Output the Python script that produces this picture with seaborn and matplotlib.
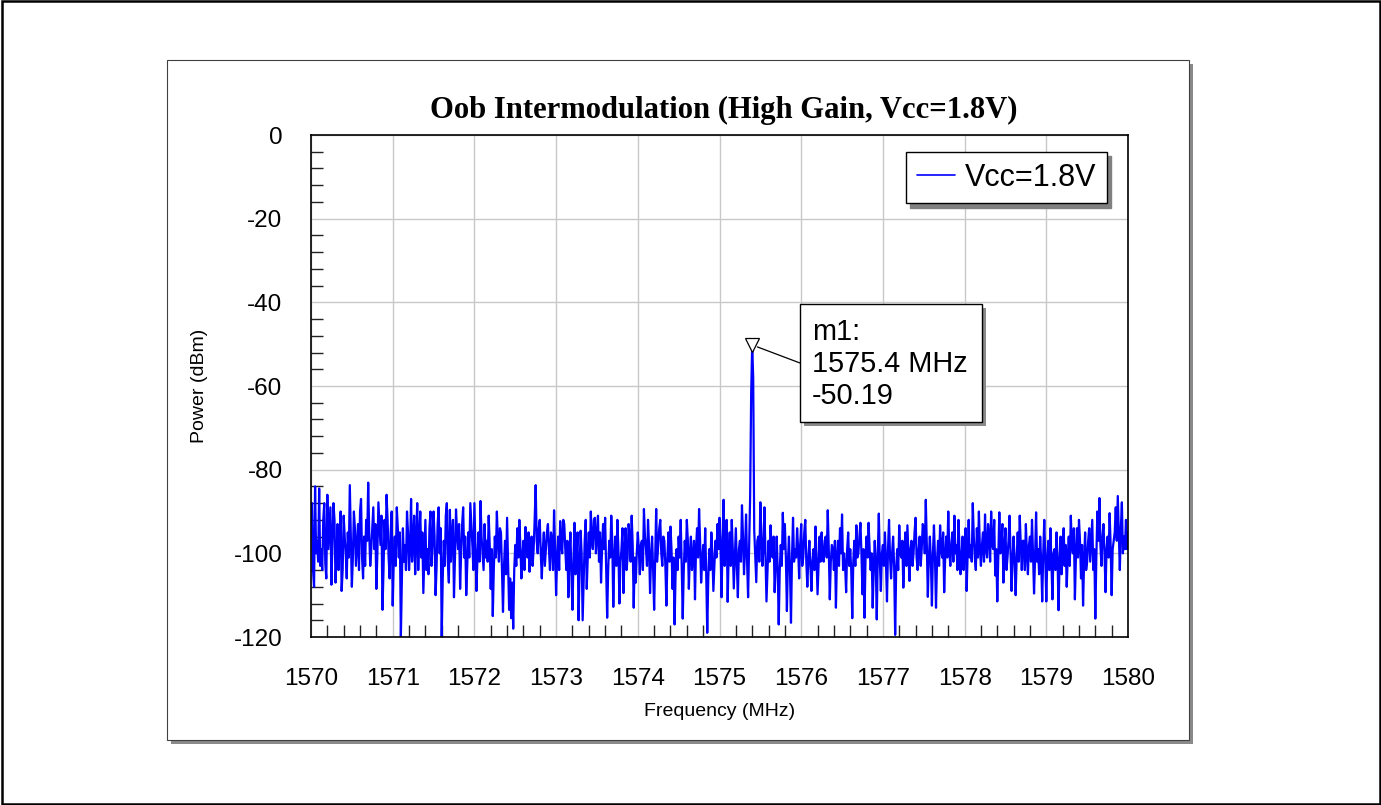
import numpy as np
import matplotlib
matplotlib.use("Agg")
import matplotlib.pyplot as plt
from matplotlib.patches import Rectangle
from matplotlib.ticker import MultipleLocator
import seaborn as sns

# ---------------- data ----------------
title = "Oob Intermodulation (High Gain, Vcc=1.8V)"
series_name = "Vcc=1.8V"
x_label = "Frequency (MHz)"
y_label = "Power (dBm)"
f_start, f_stop = 1570.0, 1580.0
x_ticks = [1570, 1571, 1572, 1573, 1574, 1575, 1576, 1577, 1578, 1579, 1580]
y_ticks = [-120, -100, -80, -60, -40, -20, 0]
marker_name = "m1"
marker_freq = 1575.4
marker_power = -50.19

# sweep samples on the 25 kHz grid
power_1570 = [-92, -104, -84, -97, -84.5, -99, -92, -102.5, -86, -94,
              -107.5, -88, -107, -93, -96, -109, -91, -100, -95, -83.7,
              -108, -90, -103, -93, -90, -101, -96, -92, -83.1, -103,
              -94, -99, -108.5, -87.8, -98, -113.5, -92, -86, -101, -95]
power_1571 = [-112.5, -96, -89, -101, -120, -94, -98, -90, -104, -87,
              -97, -105, -88, -96, -101, -109.5, -92, -99, -94, -103,
              -90, -110, -93, -100, -120, -97, -91, -102, -89.6, -96,
              -110.5, -89.5, -99, -108.5, -93, -101, -110, -95, -88, -98]
power_1572 = [-88, -109, -95, -87.5, -100, -93, -97, -91, -108.5, -115,
              -96, -90, -102, -95, -114, -97, -91.5, -113.5, -115.5, -118,
              -98, -94, -92, -106, -97, -93.7, -101, -104.4, -96, -99,
              -83.7, -100, -92, -106, -95, -99, -93, -104, -97, -89.7]
power_1573 = [-110, -96, -92.3, -100, -93, -104, -110.5, -95, -113.5, -92.7,
              -101, -116, -94.6, -116, -97, -108.5, -95, -90, -99, -91.5,
              -96, -102, -107, -93, -91.5, -115.4, -97, -91, -112.8, -96,
              -92, -112, -99, -109.5, -94, -101, -96, -91, -113, -107]
power_1574 = [-95, -105, -97, -89.4, -99, -92, -109.5, -96, -113.5, -89.4,
              -98, -92, -103, -97, -112.5, -95, -93.6, -108.5, -117, -99,
              -96, -92, -115.6, -97, -92, -108.5, -96, -101, -111, -94,
              -89.4, -107, -98, -94, -119, -99, -95, -109, -97, -93]
power_1575 = [-91.5, -110.5, -87.2, -98, -111.6, -95, -92, -108.4, -94, -110.5,
              -97, -88.5, -105, -90.7, -110.5, -86.5, -50.19, -94.5, -106.9, -96,
              -87.8, -103, -89, -111.5, -97, -93.3, -101, -109.3, -96, -117,
              -98, -90.3, -93, -113.8, -96, -116.6, -91.5, -99, -94, -106]
power_1576 = [-93, -101, -92, -108, -97, -109, -99, -93.6, -109.8, -96,
              -95, -102, -96, -89.7, -111, -98, -104, -113, -97, -94,
              -90.7, -100, -109.3, -95, -99, -115.5, -97, -93.3, -100, -92.7,
              -109.8, -115.4, -96, -92.7, -104, -113, -97, -115.8, -90.5, -109]
power_1577 = [-98, -95, -111.5, -92, -106, -96, -119.5, -99, -93.3, -101,
              -108.2, -95, -93.3, -106.6, -97, -100, -91.5, -104, -96, -99,
              -94, -87.2, -110.4, -96, -112.5, -93.3, -113, -97, -93.3, -101,
              -109.3, -96, -90, -103, -95, -91, -98, -92, -105, -96]
power_1578 = [-100, -109, -92, -98, -88, -101, -94, -90, -103, -95,
              -90.7, -101, -96, -90, -99, -105.3, -111.5, -90.2, -98, -107,
              -94, -101, -91, -109, -96, -110, -95, -91, -104, -97,
              -93, -105, -96, -92, -109.6, -90.2, -99, -96, -111.5, -92]
power_1579 = [-111.5, -97, -94, -111, -99, -95, -113.6, -96, -100, -103,
              -108, -96, -91, -100, -111, -94, -92, -106, -112.5, -95,
              -102, -94, -97, -104, -115.6, -90, -86.8, -103, -93, -109.3,
              -96, -90.4, -110, -97, -89, -86.3, -104, -87.8, -96, -92,
              -95]

# samples in between (12.5 kHz offset)
mid_1570 = [-88, -108, -100, -102, -103, -104, -88, -106, -99, -89,
            -97, -92, -101, -104, -90, -104, -96, -106, -101, -96,
            -101, -94, -98, -104, -87, -106, -103, -97, -95, -99,
            -89, -93, -100, -93, -91, -104, -99, -92, -106, -90]
mid_1571 = [-102, -103, -94, -95, -106, -102, -104, -95, -99, -102,
            -91, -97, -104, -90, -95, -101, -104, -105, -90, -98,
            -96, -103, -89, -94, -106, -103, -88, -107, -102, -92,
            -101, -95, -93, -100, -89, -96, -103, -101, -93, -104]
mid_1572 = [-99, -101, -102, -96, -104, -101, -102, -98, -99, -104,
            -101, -97, -94, -104, -103, -105, -102, -106, -107, -104,
            -103, -101, -98, -101, -104, -99, -95, -98, -103, -92,
            -97, -94, -100, -99, -103, -95, -99, -95, -104, -99]
mid_1573 = [-101, -104, -98, -92, -99, -97, -101, -105, -102, -105,
            -95, -104, -100, -106, -92, -101, -101, -97, -92, -100,
            -91, -95, -99, -99, -103, -104, -101, -97, -101, -103,
            -99, -102, -94, -100, -104, -93, -102, -98, -101, -100]
mid_1574 = [-99, -98, -104, -96, -103, -98, -101, -104, -101, -102,
            -94, -100, -96, -103, -101, -102, -99, -101, -105, -104,
            -101, -103, -104, -102, -97, -100, -104, -97, -99, -101,
            -97, -102, -104, -105, -106, -104, -100, -103, -101, -99]
mid_1575 = [-98, -97, -103, -92, -100, -103, -99, -101, -103, -99,
            -102, -96, -99, -102, -98, -62, -58, -101, -97, -102,
            -96, -99, -100, -104, -102, -99, -96, -103, -104, -104,
            -103, -99, -101, -102, -104, -101, -102, -101, -99, -98]
mid_1576 = [-103, -95, -102, -101, -103, -102, -104, -101, -103, -102,
            -101, -97, -101, -99, -102, -99, -97, -101, -103, -100,
            -104, -103, -99, -103, -104, -102, -103, -101, -96, -100,
            -99, -101, -101, -99, -100, -104, -102, -100, -102, -100]
mid_1577 = [-103, -102, -99, -101, -100, -103, -104, -104, -100, -97,
            -100, -103, -100, -99, -103, -95, -101, -99, -103, -93,
            -100, -98, -101, -102, -100, -101, -102, -103, -99, -95,
            -101, -101, -99, -98, -102, -100, -104, -99, -101, -104]
mid_1578 = [-94, -100, -101, -102, -96, -104, -101, -99, -98, -102,
            -99, -93, -102, -98, -92, -99, -101, -100, -93, -99,
            -104, -97, -100, -101, -102, -101, -102, -98, -97, -104,
            -100, -98, -102, -100, -101, -102, -105, -102, -100, -101]
mid_1579 = [-101, -104, -102, -100, -104, -101, -102, -105, -94, -98,
            -101, -103, -98, -94, -101, -101, -97, -98, -102, -104,
            -97, -102, -92, -99, -101, -97, -98, -96, -100, -99,
            -101, -98, -99, -95, -97, -95, -94, -100, -99, -99]

main = (power_1570 + power_1571 + power_1572 + power_1573 + power_1574 +
        power_1575 + power_1576 + power_1577 + power_1578 + power_1579)
mid = (mid_1570 + mid_1571 + mid_1572 + mid_1573 + mid_1574 +
       mid_1575 + mid_1576 + mid_1577 + mid_1578 + mid_1579)
power_list = []
for i, v in enumerate(main):
    power_list.append(v)
    if i < len(mid) and i < len(main) - 1:
        power_list.append(mid[i])
power = np.array(power_list, dtype=float)
freq = np.linspace(f_start, f_stop, len(power))

# ---------------- style ----------------
sns.set_style("white")
plt.rcParams["font.family"] = ["Liberation Sans", "DejaVu Sans"]
plt.rcParams.update({"text.color": "black", "axes.labelcolor": "black",
                     "xtick.color": "black", "ytick.color": "black"})

W, H = 1381, 805
fig = plt.figure(figsize=(W / 100, H / 100), dpi=100)

def fx(px):
    return px / W

def fy(py):
    return 1 - py / H

# outer border
fig.patches.append(Rectangle((fx(1.5), fy(803.5)), fx(1378), 802 / H, transform=fig.transFigure,
                             fill=False, edgecolor="black", linewidth=1.8, zorder=-5))
# panel shadow + panel
fig.patches.append(Rectangle((fx(171), fy(744)), fx(1022), 680 / H, transform=fig.transFigure,
                             facecolor="#8a8a8a", edgecolor="none", zorder=-4))
fig.patches.append(Rectangle((fx(167), fy(740)), fx(1022), 680 / H, transform=fig.transFigure,
                             facecolor="white", edgecolor="#404040", linewidth=0.8, zorder=-3))

ax = fig.add_axes([fx(311), fy(637), fx(1128) - fx(311), fy(135) - fy(637)])
ax.set_zorder(1)

sns.lineplot(x=freq, y=power, color="#0000ff", linewidth=1.6, ax=ax,
             label=series_name, estimator=None, sort=False)

ax.set_xlim(f_start, f_stop)
ax.set_ylim(-120, 0)
ax.set_xticks(x_ticks)
ax.set_yticks(y_ticks)
ax.set_xticklabels([str(t) for t in x_ticks])
ax.set_yticklabels([str(t) for t in y_ticks])
ax.xaxis.set_minor_locator(MultipleLocator(0.2))
ax.yaxis.set_minor_locator(MultipleLocator(4))
ax.grid(True, which="major", color="#c8c8c8", linewidth=1)
ax.set_axisbelow(True)
ax.tick_params(which="both", bottom=True, left=True, top=False, right=False)
ax.tick_params(which="major", length=0, labelsize=17.5, labelcolor="black")
ax.tick_params(axis="x", which="major", pad=22)
ax.tick_params(axis="y", which="major", pad=20.5)
ax.tick_params(which="minor", direction="in", length=8.6, width=1, color="#222222")
for s in ax.spines.values():
    s.set_visible(True)
    s.set_color("black")
    s.set_linewidth(1.2)

ax.set_xlabel(x_label, fontsize=14)
ax.set_ylabel(y_label, fontsize=14)
ax.yaxis.set_label_coords((208 - 311) / 817, 0.5)
ax.xaxis.set_label_coords(0.5, 1 - (703 - 135) / 502)

fig.text(fx(724), fy(110), title, ha="center", va="center", fontsize=22.1,
         fontweight="bold", family=["Liberation Serif", "DejaVu Serif"], color="black")

# legend
leg = ax.legend(loc="upper right", bbox_to_anchor=((1107 - 311) / 817, 1 - (152 - 135) / 502),
                borderaxespad=0, frameon=True, fancybox=False, edgecolor="black",
                framealpha=1, shadow={"color": "#808080", "alpha": 1, "ox": 3, "oy": -3},
                fontsize=22, handlelength=1.25, handletextpad=0.33, borderpad=0.35)
leg.get_frame().set_linewidth(1.0)
for ln in leg.get_lines():
    ln.set_linewidth(1.2)

# marker
ax.plot([marker_freq], [marker_power], marker="v", markersize=10, markerfacecolor="white",
        markeredgecolor="black", markeredgewidth=0.9, linestyle="none", zorder=5)

def axf_x(px):
    return (px - 311) / 817

def axf_y(py):
    return 1 - (py - 135) / 502

bx0, bx1, by0, by1 = axf_x(800), axf_x(981.7), axf_y(421.7), axf_y(304)
sh = 4 / 817
shy = 4 / 502
ax.add_patch(Rectangle((bx0 + sh, by0 - shy), bx1 - bx0, by1 - by0, transform=ax.transAxes,
                       facecolor="#8a8a8a", edgecolor="none", clip_on=False, zorder=6))
ax.add_patch(Rectangle((bx0, by0), bx1 - bx0, by1 - by0, transform=ax.transAxes,
                       facecolor="white", edgecolor="black", linewidth=1.0, clip_on=False, zorder=7))
ax.text(axf_x(811.7), axf_y(318.5), f"{marker_name}:\n{marker_freq:.1f} MHz\n{marker_power:.2f}",
        transform=ax.transAxes, ha="left", va="top", fontsize=20.8, linespacing=1.16, zorder=8)
ax.annotate("", xy=(marker_freq, marker_power), xytext=(bx0, axf_y(363)),
            textcoords="axes fraction",
            arrowprops=dict(arrowstyle="-", color="black", lw=0.9, shrinkA=0, shrinkB=4), zorder=6)

fig.savefig("out.png", dpi=100)
